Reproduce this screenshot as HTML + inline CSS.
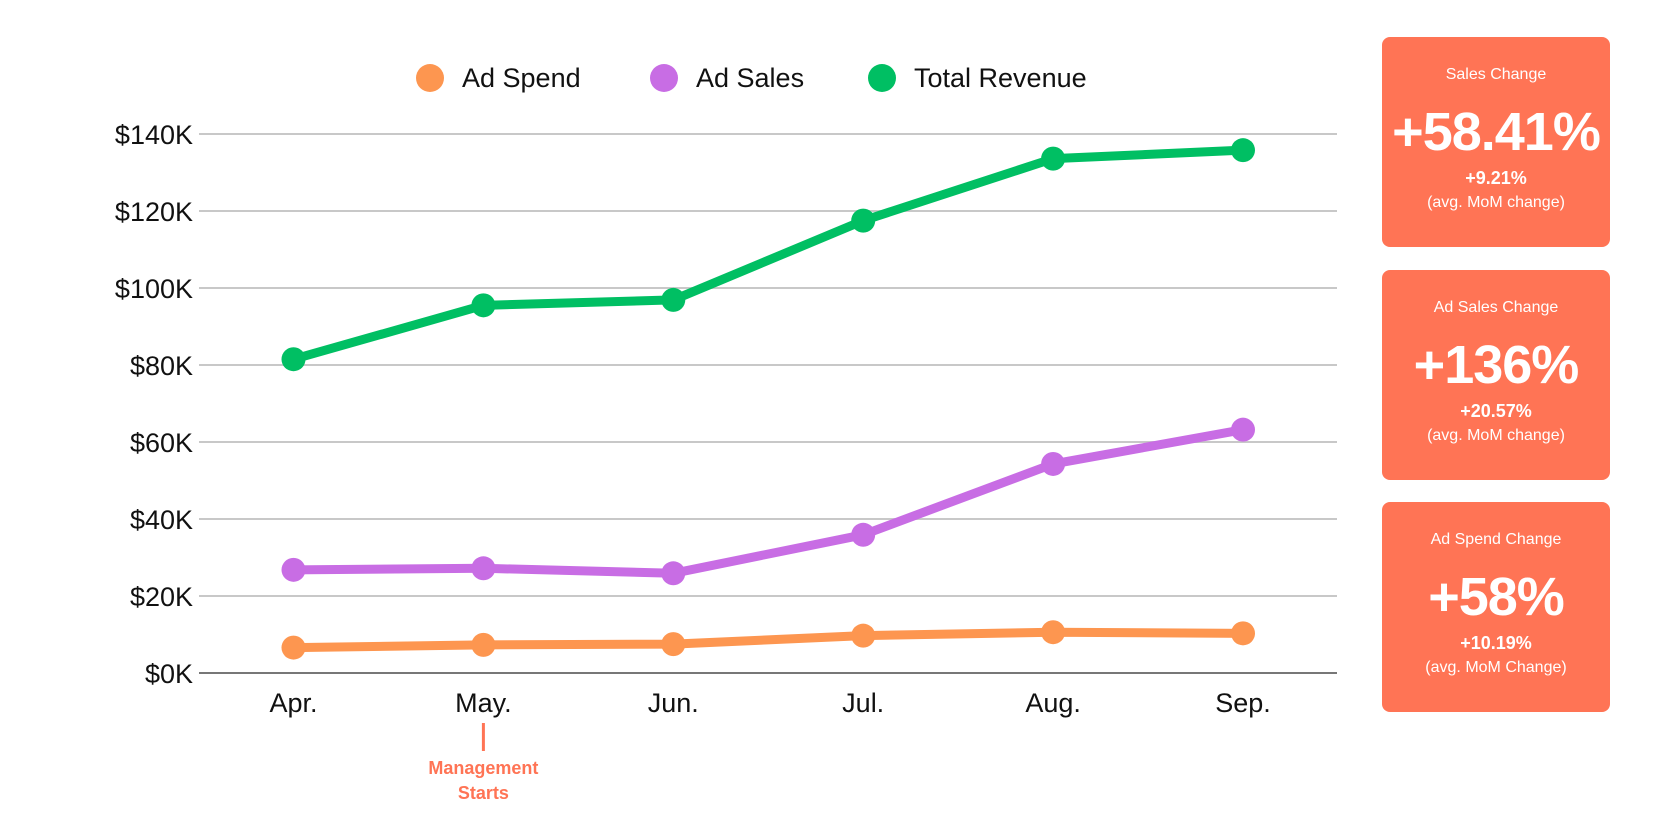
<!DOCTYPE html>
<html><head><meta charset="utf-8"><style>
body{margin:0;width:1680px;height:840px;background:#fff;overflow:hidden;font-family:"Liberation Sans",sans-serif;position:relative}
.card{position:absolute;left:1382px;width:228px;height:210px;background:#ff7455;border-radius:8px;color:#fff;text-align:center}
.card .t{position:absolute;top:29px;width:100%;font-size:16px}
.card .b{position:absolute;top:64px;width:100%;font-size:54px;font-weight:bold;letter-spacing:-1px}
.card .s{position:absolute;top:131px;width:100%;font-size:18px;font-weight:bold}
.card .a{position:absolute;top:157px;width:100%;font-size:16px}
</style></head><body>
<svg id="chart" width="1360" height="840" style="position:absolute;left:0;top:0" font-family="Liberation Sans, sans-serif"></svg>
<div class="card" style="top:37px"><div class="t">Sales Change</div><div class="b">+58.41%</div><div class="s">+9.21%</div><div class="a">(avg. MoM change)</div></div>
<div class="card" style="top:270px"><div class="t">Ad Sales Change</div><div class="b">+136%</div><div class="s">+20.57%</div><div class="a">(avg. MoM change)</div></div>
<div class="card" style="top:502px"><div class="t">Ad Spend Change</div><div class="b">+58%</div><div class="s">+10.19%</div><div class="a">(avg. MoM Change)</div></div>
<script>
const categories=["Apr.","May.","Jun.","Jul.","Aug.","Sep."];
const adSpend=[6.6,7.3,7.5,9.7,10.6,10.3];
const adSales=[26.8,27.2,25.9,35.9,54.3,63.2];
const totalRevenue=[81.5,95.5,96.9,117.5,133.6,135.8];
const yTicks=[0,20,40,60,80,100,120,140];
const yTickLabels=["$0K","$20K","$40K","$60K","$80K","$100K","$120K","$140K"];
const seriesNames=["Ad Spend","Ad Sales","Total Revenue"];
const seriesColors=["#fd9650","#c86de4","#00bf63"];

const svg=document.getElementById('chart');
const NS='http://www.w3.org/2000/svg';
const x0=199,x1=1337,yTop=134,yBot=673;
const xs=i=>293.5+i*189.9;
const ys=v=>yBot-(v/140)*(yBot-yTop);
function mk(tag,attrs){const e=document.createElementNS(NS,tag);for(const k in attrs)e.setAttribute(k,attrs[k]);svg.appendChild(e);return e;}
yTicks.forEach((t,i)=>{
  const g=mk('line',{x1:x0,x2:x1,y1:ys(t),y2:ys(t),stroke:t===0?'#777':'#c8c8c8','stroke-width':2});
  
  
  const l=mk('text',{x:193,y:ys(t)+10,'text-anchor':'end','font-size':27,fill:'#111'});
  l.textContent=yTickLabels[i];
  
  
});
categories.forEach((c,i)=>{
  const l=mk('text',{x:xs(i),y:712,'text-anchor':'middle','font-size':27,fill:'#111'});
  l.textContent=c;
  
  
});
[adSpend,adSales,totalRevenue].forEach((data,si)=>{
  const p=mk('polyline',{points:data.map((v,i)=>xs(i)+','+ys(v)).join(' '),fill:'none',stroke:seriesColors[si],'stroke-width':9,'stroke-linejoin':'round'});
  
  
  data.forEach((v,i)=>{
    const c=mk('circle',{cx:xs(i),cy:ys(v),r:12,fill:seriesColors[si]});
    
    
  });
});
const legX=[430,664,882];
seriesNames.forEach((n,i)=>{
  const c=mk('circle',{cx:legX[i],cy:78,r:14,fill:seriesColors[i]});
  
  
  const t=mk('text',{x:legX[i]+32,y:87,'font-size':27,fill:'#111'});
  t.textContent=n;
  
  
});
const ml=mk('line',{x1:xs(1),x2:xs(1),y1:723,y2:751,stroke:'#ff7455','stroke-width':3});


["Management","Starts"].forEach((s,i)=>{
  const t=mk('text',{x:xs(1),y:774+i*25,'text-anchor':'middle','font-size':18,'font-weight':'bold',fill:'#ff7455'});
  t.textContent=s;
  
  
});
</script>
</body></html>
